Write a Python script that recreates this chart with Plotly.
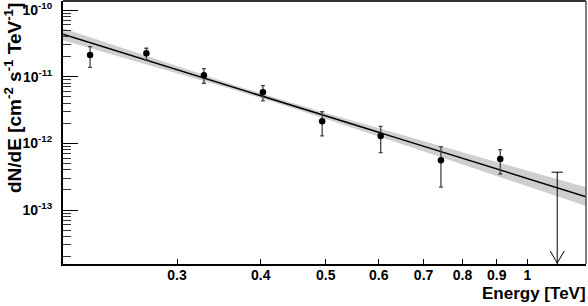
import numpy as np
import plotly.graph_objects as go

# Spectral points (TeV, cm^-2 s^-1 TeV^-1)
energy = [0.2225, 0.270, 0.329, 0.403, 0.494, 0.604, 0.743, 0.911]
flux = [2.11e-11, 2.25e-11, 1.05e-11, 5.83e-12, 2.14e-12, 1.29e-12, 5.58e-13, 5.83e-13]
flux_hi = [2.82e-11, 2.67e-11, 1.32e-11, 7.33e-12, 2.98e-12, 1.80e-12, 8.93e-13, 8.05e-13]
flux_lo = [1.38e-11, 1.78e-11, 7.96e-12, 4.33e-12, 1.29e-12, 7.26e-13, 2.20e-13, 3.47e-13]

# Upper limit
ul_energy = 1.108
ul_flux = 3.69e-13

# Power-law fit F = N0 * E^-index, with butterfly
fit_norm = 2.97e-13
fit_index = 3.12
band_norm_dex = 0.035
band_index_err = 0.28
band_pivot_log = -0.397

# Axes
x_range_log = [-0.6931, 0.0875]
y_range_log = [-13.81, -9.865]
x_tick_vals = [0.3, 0.4, 0.5, 0.6, 0.7, 0.8, 0.9, 1]
x_tick_text = ["0.3", "0.4", "0.5", "0.6", "0.7", "0.8", "0.9", "1"]
y_decades = [-13, -12, -11, -10]

logE = np.linspace(x_range_log[0], x_range_log[1], 200)
E = 10 ** logE
fitF = fit_norm * E ** (-fit_index)
sig = np.sqrt(band_norm_dex ** 2 + (band_index_err * (logE - band_pivot_log)) ** 2)
upper = fitF * 10 ** sig
lower = fitF * 10 ** (-sig)

fig = go.Figure()
fig.add_trace(go.Scatter(x=E, y=upper, mode="lines", line=dict(width=0), hoverinfo="skip", showlegend=False))
fig.add_trace(go.Scatter(x=E, y=lower, mode="lines", line=dict(width=0), fill="tonexty",
                         fillcolor="#cfcfcf", hoverinfo="skip", showlegend=False))
fig.add_trace(go.Scatter(x=E, y=fitF, mode="lines", line=dict(color="black", width=1.5), showlegend=False))

fig.add_trace(go.Scatter(
    x=energy, y=flux, mode="markers",
    marker=dict(color="black", size=6.5, symbol="circle"),
    error_y=dict(type="data", symmetric=False,
                 array=[h - f for h, f in zip(flux_hi, flux)],
                 arrayminus=[f - l for f, l in zip(flux, flux_lo)],
                 color="#444444", thickness=1.3, width=2),
    showlegend=False))

# upper limit line + cap
y_bottom = 10 ** y_range_log[0]
fig.add_trace(go.Scatter(x=[ul_energy, ul_energy], y=[ul_flux, y_bottom], mode="lines",
                         line=dict(color="black", width=1), showlegend=False))
fig.add_trace(go.Scatter(x=[ul_energy], y=[ul_flux], mode="markers",
                         marker=dict(symbol="line-ew", size=8, line=dict(color="black", width=1)),
                         showlegend=False))
fig.add_shape(type="path", xref="x", yref="paper", xsizemode="pixel", ysizemode="pixel",
              xanchor=ul_energy, yanchor=0,
              path="M-7,13 L0,1 L7,13", line=dict(color="black", width=1))

# frame top/right
fig.add_shape(type="line", xref="paper", yref="paper", x0=0, x1=1, y0=1, y1=1,
              line=dict(color="#333333", width=2))
fig.add_shape(type="line", xref="paper", yref="paper", x0=1, x1=1, y0=0, y1=1,
              line=dict(color="#555555", width=1.5))

y_minor = [m * 10.0 ** d for d in range(-14, -9) for m in range(2, 10)]
y_minor = [v for v in y_minor if y_range_log[0] <= np.log10(v) <= y_range_log[1]]

tick_font = dict(family="Liberation Sans, Arial, sans-serif", size=14, color="black", weight="bold")

fig.update_xaxes(type="log", range=x_range_log, tickvals=x_tick_vals, ticktext=x_tick_text,
                 ticks="inside", ticklen=5, tickwidth=1, tickcolor="black",
                 showline=True, linecolor="black", linewidth=2, showgrid=False, zeroline=False,
                 tickfont=tick_font, ticklabelstandoff=-3)
fig.update_yaxes(type="log", range=y_range_log,
                 tickvals=[10.0 ** d for d in y_decades],
                 ticktext=["10<sup>%d</sup>" % d for d in y_decades],
                 ticks="inside", ticklen=15, tickwidth=1, tickcolor="black",
                 minor=dict(tickvals=y_minor, ticks="inside", ticklen=8, tickwidth=1, tickcolor="#333333"),
                 showline=True, linecolor="black", linewidth=2, showgrid=False, zeroline=False,
                 tickfont=tick_font, ticklabelstandoff=6)

fig.add_annotation(text="Energy [TeV]", xref="paper", yref="paper", x=1.003, y=-0.112,
                   xanchor="right", yanchor="middle", showarrow=False,
                   font=dict(family="Liberation Sans, Arial, sans-serif", size=17, color="black", weight="bold"))
fig.add_annotation(text="dN/dE [cm<sup>-2</sup> s<sup>-1</sup> TeV<sup>-1</sup>]", xref="paper", yref="paper",
                   x=-0.0956, y=1.0, xanchor="center", yanchor="top", textangle=-90, showarrow=False,
                   font=dict(family="Liberation Sans, Arial, sans-serif", size=19, color="black", weight="bold"))

fig.update_layout(width=588, height=306, margin=dict(l=63, r=2, t=1, b=42),
                  plot_bgcolor="white", paper_bgcolor="white", showlegend=False)

fig.write_html("out.html", config={"displayModeBar": False},
               post_script="document.body.style.margin='0';document.body.style.padding='0';")
